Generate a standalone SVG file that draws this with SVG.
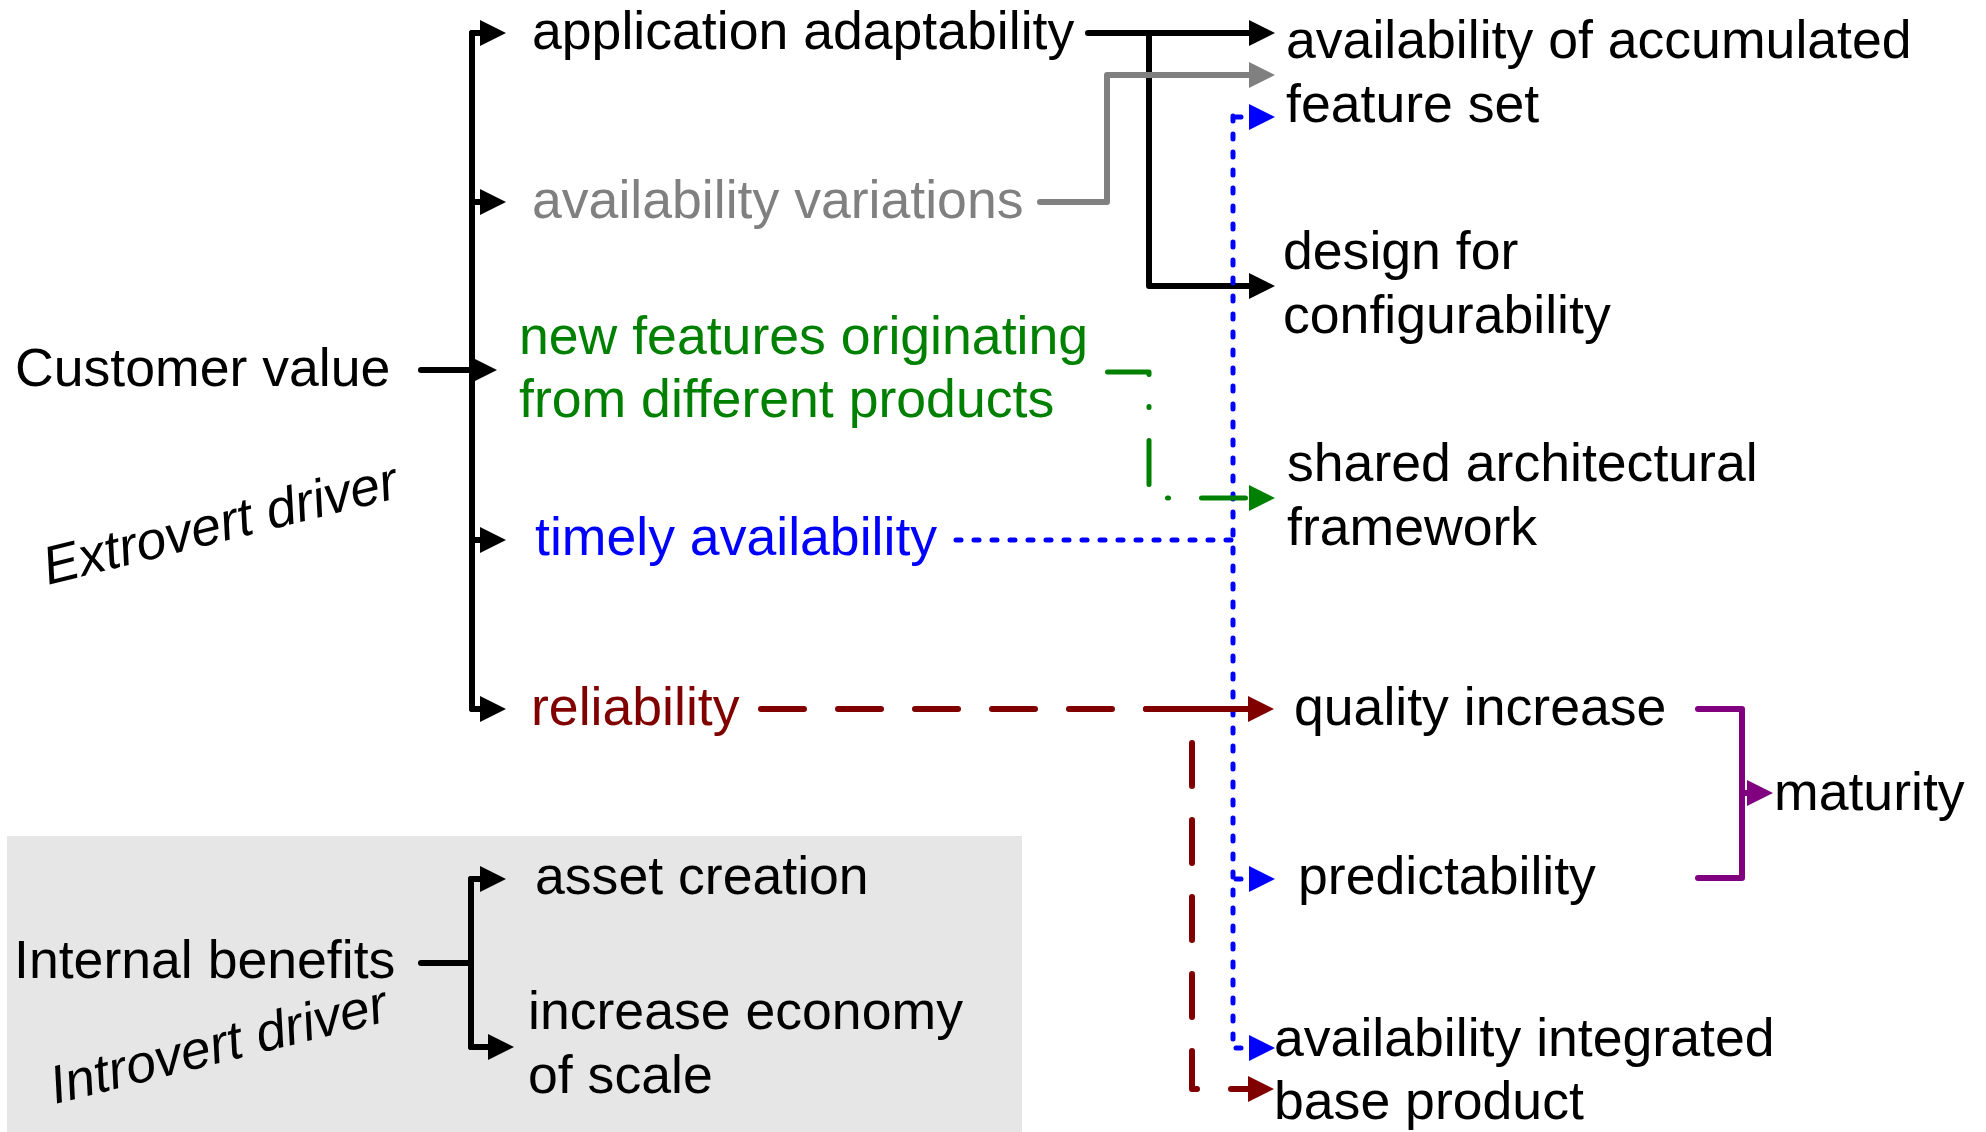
<svg xmlns="http://www.w3.org/2000/svg" width="1986" height="1132" viewBox="0 0 1986 1132">
<style>
text{font-family:"Liberation Sans",Arial,Helvetica,sans-serif;font-size:53.6px;fill:#000}
.gray{fill:#808080}.green{fill:#008000}.blue{fill:#0000ff}.red{fill:#800000}
.it{font-style:italic}
.c{fill:none;stroke-linecap:round;stroke-linejoin:round}
.k{stroke:#000;stroke-width:6}
.g{stroke:#808080;stroke-width:6}
.b{stroke:#0000ff;stroke-width:5;stroke-dasharray:5 13}
.gr{stroke:#008000;stroke-width:5;stroke-dasharray:44 32 1 33}
.r{stroke:#800000;stroke-width:6;stroke-dasharray:43 34}
.rs{stroke:#800000;stroke-width:6}
.p{stroke:#800080;stroke-width:6}
</style>
<defs>
<marker id="ak" markerUnits="userSpaceOnUse" viewBox="0 0 26 26" markerWidth="26" markerHeight="26" refX="0" refY="13" orient="auto"><path d="M0,0 L26,13 L0,26 Z" fill="#000"/></marker>
<marker id="ag" markerUnits="userSpaceOnUse" viewBox="0 0 26 26" markerWidth="26" markerHeight="26" refX="0" refY="13" orient="auto"><path d="M0,0 L26,13 L0,26 Z" fill="#808080"/></marker>
<marker id="ab" markerUnits="userSpaceOnUse" viewBox="0 0 26 26" markerWidth="26" markerHeight="26" refX="0" refY="13" orient="auto"><path d="M0,0 L26,13 L0,26 Z" fill="#0000ff"/></marker>
<marker id="agr" markerUnits="userSpaceOnUse" viewBox="0 0 26 26" markerWidth="26" markerHeight="26" refX="0" refY="13" orient="auto"><path d="M0,0 L26,13 L0,26 Z" fill="#008000"/></marker>
<marker id="ar" markerUnits="userSpaceOnUse" viewBox="0 0 26 26" markerWidth="26" markerHeight="26" refX="0" refY="13" orient="auto"><path d="M0,0 L26,13 L0,26 Z" fill="#800000"/></marker>
<marker id="ap" markerUnits="userSpaceOnUse" viewBox="0 0 26 26" markerWidth="26" markerHeight="26" refX="0" refY="13" orient="auto"><path d="M0,0 L26,13 L0,26 Z" fill="#800080"/></marker>
</defs>
<rect id="internal-area" x="7" y="836" width="1015" height="296" fill="#e6e6e6"/>
<g id="connectors">
<path class="c k" d="M472,33 V709"/>
<path class="c k" d="M472,33 H480" marker-end="url(#ak)"/>
<path class="c k" d="M472,202 H480" marker-end="url(#ak)"/>
<path class="c k" d="M472,540 H480" marker-end="url(#ak)"/>
<path class="c k" d="M472,709 H480" marker-end="url(#ak)"/>
<path class="c k" d="M421,370 H471" marker-end="url(#ak)"/>
<path class="c k" d="M1088,33 H1249" marker-end="url(#ak)"/>
<path class="c k" d="M1149,33 V286 H1249" marker-end="url(#ak)"/>
<path class="c g" d="M1040,202 H1107 V75 H1249" marker-end="url(#ag)"/>
<path class="c b" d="M956,540 H1233"/>
<path class="c b" d="M1233,116 V1042"/>
<path class="c b" d="M1236,117 H1249" marker-end="url(#ab)"/>
<path class="c b" d="M1236,879 H1249" marker-end="url(#ab)"/>
<path class="c b" d="M1236,1048 H1249" marker-end="url(#ab)"/>
<path class="c gr" d="M1107.5,372 H1149 V498 H1249" marker-end="url(#agr)"/>
<path class="c r" d="M761,709 H1248" marker-end="url(#ar)"/>
<path class="c rs" d="M1146,709 H1240"/>
<path class="c r" d="M1192,743 V1089 H1248" marker-end="url(#ar)"/>
<path class="c p" d="M1698,709 H1742 V878 H1698"/>
<path class="c p" d="M1742,793 H1747" marker-end="url(#ap)"/>
<path class="c k" d="M421,963 H471"/>
<path class="c k" d="M471,879 V1047"/>
<path class="c k" d="M471,879 H480" marker-end="url(#ak)"/>
<path class="c k" d="M471,1047 H488" marker-end="url(#ak)"/>
</g>
<g id="customer-value"><text x="15" y="386">Customer value</text></g>
<g id="extrovert-driver"><text class="it" transform="translate(48,585) rotate(-14)" x="0" y="0">Extrovert driver</text></g>
<g id="application-adaptability"><text x="532" y="49">application adaptability</text></g>
<g id="availability-variations"><text class="gray" x="532" y="218">availability variations</text></g>
<g id="new-features"><text class="green" x="519" y="354">new features originating</text><text class="green" x="519" y="417">from different products</text></g>
<g id="timely-availability"><text class="blue" x="535" y="555">timely availability</text></g>
<g id="reliability"><text class="red" x="531" y="725">reliability</text></g>
<g id="accumulated-feature-set"><text x="1286" y="58">availability of accumulated</text><text x="1286" y="122">feature set</text></g>
<g id="design-for-configurability"><text x="1283" y="269">design for</text><text x="1283" y="333">configurability</text></g>
<g id="shared-architectural-framework"><text x="1287" y="481">shared architectural</text><text x="1287" y="545">framework</text></g>
<g id="quality-increase"><text x="1294" y="725">quality increase</text></g>
<g id="predictability"><text x="1298" y="894">predictability</text></g>
<g id="maturity"><text x="1774" y="810">maturity</text></g>
<g id="integrated-base-product"><text x="1274" y="1056">availability integrated</text><text x="1274" y="1119">base product</text></g>
<g id="internal-benefits"><text x="14" y="978">Internal benefits</text></g>
<g id="introvert-driver"><text class="it" transform="translate(55,1104) rotate(-14)" x="0" y="0">Introvert driver</text></g>
<g id="asset-creation"><text x="535" y="894">asset creation</text></g>
<g id="economy-of-scale"><text x="528" y="1029">increase economy</text><text x="528" y="1093">of scale</text></g>
</svg>
